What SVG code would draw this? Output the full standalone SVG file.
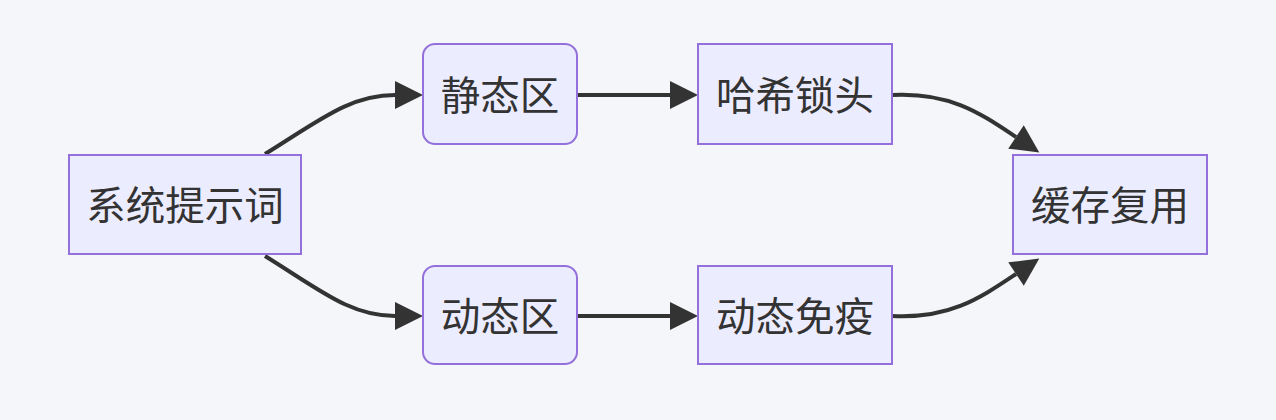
<svg xmlns="http://www.w3.org/2000/svg" width="1276" height="420" viewBox="0 0 1276 420">
<style>
.node rect{fill:#ECECFF;stroke:#9370DB;stroke-width:2}
.node text{font-family:"Noto Sans CJK SC","Noto Sans",sans-serif;font-size:39.5px;fill:#333;text-anchor:middle;dominant-baseline:central}
.edge{fill:none;stroke:#333;stroke-width:4}
</style>
<defs>
<marker id="arr" viewBox="0 0 10 10" refX="0" refY="5" markerWidth="30" markerHeight="28" markerUnits="userSpaceOnUse" orient="auto">
<path d="M0,0 L10,5 L0,10 z" fill="#333"/>
</marker>
</defs>
<rect width="1276" height="420" fill="#F5F6FA"/>
<g id="edges">
<path class="edge" d="M265,154 C320,120 350,95 395,95" marker-end="url(#arr)"/>
<path class="edge" d="M265,256 C320,290 350,316 395,316" marker-end="url(#arr)"/>
<path class="edge" d="M577,95 L670,95" marker-end="url(#arr)"/>
<path class="edge" d="M577,316 L670,316" marker-end="url(#arr)"/>
<path class="edge" d="M892,95 C950,92 980,113 1016,137" marker-end="url(#arr)"/>
<path class="edge" d="M892,316 C950,319 980,298 1016,274" marker-end="url(#arr)"/>
</g>
<g id="node-sys" class="node"><rect x="69" y="155" width="232" height="99"/><text x="185" y="202">系统提示词</text></g>
<g id="node-static" class="node"><rect x="423" y="44" width="154" height="100" rx="12" ry="12"/><text x="500" y="92">静态区</text></g>
<g id="node-hash" class="node"><rect x="698" y="44" width="194" height="100"/><text x="795" y="92">哈希锁头</text></g>
<g id="node-dynamic" class="node"><rect x="423" y="266" width="154" height="98" rx="12" ry="12"/><text x="500" y="313">动态区</text></g>
<g id="node-immune" class="node"><rect x="698" y="266" width="194" height="98"/><text x="795" y="313">动态免疫</text></g>
<g id="node-cache" class="node"><rect x="1013" y="155" width="194" height="99"/><text x="1110" y="202">缓存复用</text></g>
</svg>
